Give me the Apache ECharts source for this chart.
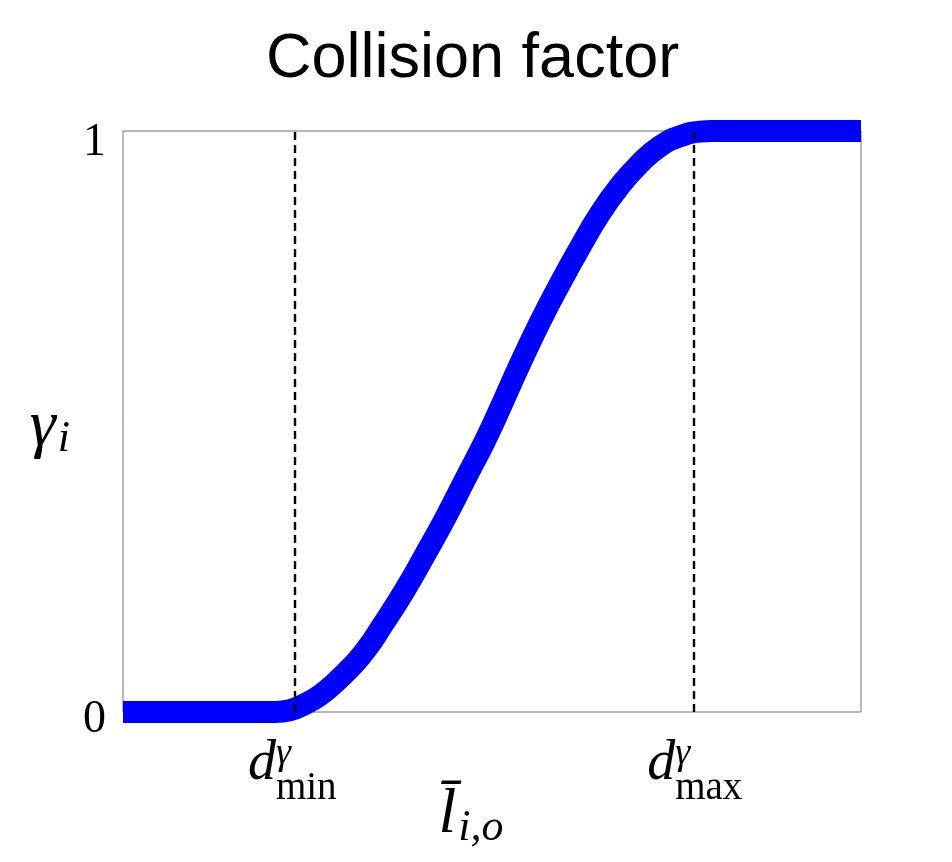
<!DOCTYPE html>
<html>
<head>
<meta charset="utf-8">
<title>Collision factor</title>
<script src="https://cdn.jsdelivr.net/npm/echarts@6.0.0/dist/echarts.min.js"></script>
<style>
  html, body { margin: 0; padding: 0; background: #fff; }
  #chart { width: 952px; height: 862px; }
</style>
</head>
<body>
<div id="chart"></div>
<script>
// distance axis (arbitrary units, 0..100) and collision factor
const distance = [0, 20.6, 22.6, 24.7, 26.7, 28.7, 30.8, 32.8, 35.2, 38.2, 40.9, 43.6, 46.3, 49.1,
  51.5, 53.8, 56.5, 59.2, 61.9, 64.6, 67.3, 70.1, 72.8, 75.5, 78.2, 79.8, 100]
const gamma = [0, 0, 0.003, 0.014, 0.029, 0.050, 0.076, 0.105, 0.150, 0.210, 0.270, 0.332, 0.399, 0.468,
  0.534, 0.599, 0.671, 0.737, 0.799, 0.857, 0.905, 0.945, 0.974, 0.991, 0.999, 1, 1]

// thresholds d_min / d_max
const thresholds = [23.3, 77.4]
const thresholdSubs = ['min', 'max']

const yTicks = [0, 1]

const chart = echarts.init(document.getElementById('chart'))

const serif = 'Liberation Serif'

chart.setOption({
  animation: false,
  backgroundColor: '#fff',
  title: {
    text: 'Collision factor',
    left: 266,
    top: 28,
    padding: 0,
    textStyle: {
      fontFamily: 'Liberation Sans',
      fontSize: 63,
      fontWeight: 'normal',
      color: '#000'
    }
  },
  grid: {
    left: 123,
    top: 131,
    right: 91,
    bottom: 150,
    outerBoundsMode: 'none',
    show: true,
    borderColor: '#6e6e6e',
    borderWidth: 1
  },
  xAxis: {
    type: 'value',
    min: 0,
    max: 100,
    axisLine: { show: false },
    axisTick: { show: false },
    splitLine: { show: false },
    axisLabel: {
      customValues: thresholds,
      margin: 39,
      formatter: (v) => {
        const sub = thresholdSubs[thresholds.indexOf(v)]
        return '{d|d}{g|γ}\n{e|}{s|' + sub + '}'
      },
      rich: {
        d: { fontFamily: serif, fontStyle: 'italic', fontSize: 56, width: 28, align: 'left', lineHeight: 27, color: '#000' },
        g: { fontFamily: serif, fontStyle: 'italic', fontSize: 38, width: 66, align: 'left', lineHeight: 27, padding: [0, 0, 20, 0], color: '#000' },
        e: { width: 28, align: 'left', lineHeight: 22 },
        s: { fontFamily: serif, fontSize: 39, width: 66, align: 'left', lineHeight: 22, color: '#000' }
      }
    },
    name: '{l|l\u0304}{s|i,o}',
    nameLocation: 'middle',
    nameGap: 83,
    nameMoveOverlap: false,
    nameTextStyle: {
      padding: [0, 42, 0, 0],
      rich: {
        l: { fontFamily: serif, fontStyle: 'italic', fontSize: 64, lineHeight: 40, color: '#000' },
        s: { fontFamily: serif, fontStyle: 'italic', fontSize: 44, lineHeight: 40, padding: [26, 0, 0, 2], color: '#000' }
      }
    }
  },
  yAxis: {
    type: 'value',
    min: yTicks[0],
    max: yTicks[1],
    interval: 1,
    axisLine: { show: false },
    axisTick: { show: false },
    splitLine: { show: false },
    axisLabel: {
      margin: 17,
      formatter: (v) => (v === yTicks[1] ? '{one|' + v + '}' : '{zero|' + v + '}'),
      rich: {
        one: { fontFamily: serif, fontSize: 46, color: '#000', padding: [24, 0, 0, 0] },
        zero: { fontFamily: serif, fontSize: 46, color: '#000', padding: [16, 0, 0, 0] }
      }
    },
    name: '{g|γ}{i|i}',
    nameLocation: 'middle',
    nameRotate: 0,
    nameGap: 53,
    nameMoveOverlap: false,
    nameTextStyle: {
      align: 'right',
      verticalAlign: 'middle',
      rich: {
        g: { fontFamily: serif, fontStyle: 'italic', fontSize: 66, lineHeight: 60, padding: [12, 0, 0, 0], color: '#000' },
        i: { fontFamily: serif, fontStyle: 'italic', fontSize: 44, lineHeight: 60, padding: [36, 0, 0, 2], color: '#000' }
      }
    }
  },
  series: [{
    type: 'line',
    data: distance.map((x, i) => [x, gamma[i]]),
    showSymbol: false,
    smooth: 0.5,
    lineStyle: { color: '#0000ff', width: 22, cap: 'butt', join: 'round' },
    markLine: {
      silent: true,
      symbol: 'none',
      label: { show: false },
      lineStyle: { color: '#000', type: [8, 5], width: 2.4 },
      data: thresholds.map((v) => ({ xAxis: v }))
    }
  }]
})
</script>
</body>
</html>
